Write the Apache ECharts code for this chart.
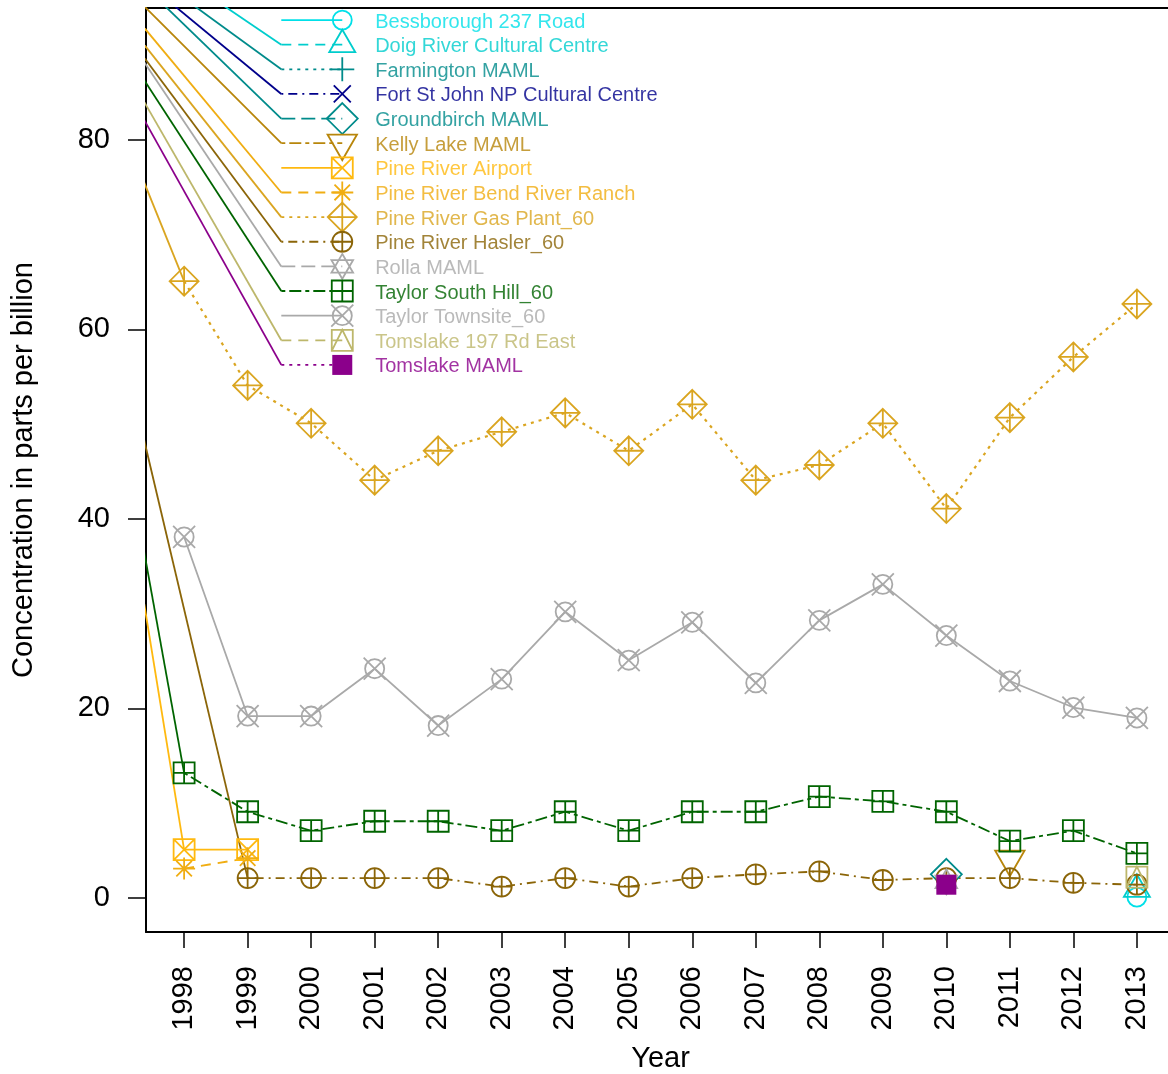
<!DOCTYPE html>
<html>
<head>
<meta charset="utf-8">
<script src="https://cdn.jsdelivr.net/npm/echarts@6/dist/echarts.min.js"></script>
<style>
html,body{margin:0;padding:0;background:#fff;}
#chart{width:1168px;height:1074px;}
</style>
</head>
<body>
<div id="chart"></div>
<script>
// ---------- data ----------
const YEARS = [1998,1999,2000,2001,2002,2003,2004,2005,2006,2007,2008,2009,2010,2011,2012,2013];
const Y_TICKS = [0,20,40,60,80];
const NAMES = ["Bessborough 237 Road","Doig River Cultural Centre","Farmington MAML","Fort St John NP Cultural Centre","Groundbirch MAML","Kelly Lake MAML","Pine River Airport","Pine River Bend River Ranch","Pine River Gas Plant_60","Pine River Hasler_60","Rolla MAML","Taylor South Hill_60","Taylor Townsite_60","Tomslake 197 Rd East","Tomslake MAML"];
const COLORS = ["#00E0E8","#00CDCD","#008B8B","#00008B","#008B8B","#B8860B","#FFB90F","#F0AD12","#DAA520","#8B6508","#A9A9A9","#006400","#A9A9A9","#BDB76B","#8B008B"];
const N = null;
const bessborough  = [N,N,N,N,N,N,N,N,N,N,N,N,N,N,N,0.1];
const doig         = [N,N,N,N,N,N,N,N,N,N,N,N,N,N,N,0.9];
const farmington   = [N,N,N,N,N,N,N,N,N,N,N,N,N,N,N,N];
const fortStJohn   = [N,N,N,N,N,N,N,N,N,N,N,N,N,N,N,N];
const groundbirch  = [N,N,N,N,N,N,N,N,N,N,N,N,2.5,N,N,N];
const kellyLake    = [N,N,N,N,N,N,N,N,N,N,N,N,N,4.1,N,N];
const pineAirport  = [5.1,5.1,N,N,N,N,N,N,N,N,N,N,N,N,N,N];
const pineBend     = [3.1,4.2,N,N,N,N,N,N,N,N,N,N,N,N,N,N];
const pineGasPlant = [65.1,54.1,50.1,44.1,47.2,49.2,51.2,47.2,52.1,44.1,45.7,50.1,41.1,50.7,57.1,62.7];
const pineHasler   = [N,2.1,2.1,2.1,2.1,1.2,2.1,1.2,2.1,2.5,2.8,1.9,2.1,2.1,1.6,1.4];
const rolla        = [N,N,N,N,N,N,N,N,N,N,N,N,1.7,N,N,N];
const taylorSouth  = [13.2,9.1,7.1,8.1,8.1,7.1,9.1,7.1,9.1,9.1,10.7,10.2,9.1,6.0,7.1,4.7];
const taylorTown   = [38.1,19.2,19.2,24.2,18.2,23.1,30.2,25.1,29.1,22.7,29.3,33.1,27.7,22.9,20.1,19.0];
const tomslake197  = [N,N,N,N,N,N,N,N,N,N,N,N,N,N,N,2.2];
const tomslakeMAML = [N,N,N,N,N,N,N,N,N,N,N,N,1.4,N,N,N];
const VALUES = [bessborough,doig,farmington,fortStJohn,groundbirch,kellyLake,pineAirport,pineBend,pineGasPlant,pineHasler,rolla,taylorSouth,taylorTown,tomslake197,tomslakeMAML];

// stray solid segments seen in the picture (data units): edge point -> legend entry
const LEGEND_STRAYS = [N,[1998.677,93.93],[1998.205,93.93],[1997.89,93.93],[1997.73,93.93],[1997.4,93.93],N,[1997.4,91.61],[1997.4,89.82],[1997.4,88.44],[1997.4,87.92],[1997.4,86.02],N,[1997.4,83.69],[1997.4,81.79]];
// stray solid segments: edge point -> first data point
const FIRST_STRAYS = [N,N,N,N,N,N,[1997.4,29.87],N,[1997.4,75.04],[1997.4,47.49],N,[1997.4,35.46],N,N,N];

// ---------- styles ----------
const FONT = "'Liberation Sans', Arial, Helvetica, sans-serif";
const DASHES = ['solid',[10,7],[3,5],[2,5,9,5],[14,6],[4,4,12,4]];
const SYMBOLS = [
  {s:'circle', size:[19,19]},
  {s:'path://M0,-1L0.866,0.5L-0.866,0.5Z', size:[26,22.5], off:[0,-3.75]},
  {s:'path://M0,-1L0,1M-1,0L1,0', size:[24,24]},
  {s:'path://M-1,-1L1,1M-1,1L1,-1', size:[17,17]},
  {s:'path://M0,-1L1,0L0,1L-1,0Z', size:[31,31]},
  {s:'path://M0,1L0.866,-0.5L-0.866,-0.5Z', size:[29.4,25.5], off:[0,4.25]},
  {s:'path://M-1,-1L1,-1L1,1L-1,1ZM-1,-1L1,1M-1,1L1,-1', size:[21,21]},
  {s:'path://M0,-1L0,1M-1,0L1,0M-0.707,-0.707L0.707,0.707M-0.707,0.707L0.707,-0.707', size:[22,22]},
  {s:'path://M0,-1L1,0L0,1L-1,0ZM0,-1L0,1M-1,0L1,0', size:[29,29]},
  {s:'path://M-1,0A1,1,0,1,1,1,0A1,1,0,1,1,-1,0ZM0,-1L0,1M-1,0L1,0', size:[20,20]},
  {s:'path://M0,-1L0.866,0.5L-0.866,0.5ZM0,1L0.866,-0.5L-0.866,-0.5Z', size:[21.6,25]},
  {s:'path://M-1,-1L1,-1L1,1L-1,1ZM0,-1L0,1M-1,0L1,0', size:[21,21]},
  {s:'path://M-1,0A1,1,0,1,1,1,0A1,1,0,1,1,-1,0ZM-1.15,-1.15L1.15,1.15M-1.15,1.15L1.15,-1.15', size:[22,22]},
  {s:'path://M-1,-1L1,-1L1,1L-1,1ZM-1,1L0,-1L1,1', size:[21,21]},
  {s:'rect', size:[20,20], filled:true}
];
const LW = 1.8;
// legend layout (data units)
const LEG_X0 = 1999.53, LEG_X1 = 2000.49, LEG_TX = 2001.0, LEG_Y0 = 92.66, LEG_DY = 2.6;

function symStyle(i){
  const sy = SYMBOLS[i];
  return {
    symbol: sy.s, symbolSize: sy.size, symbolOffset: sy.off || [0,0], symbolKeepAspect:false,
    itemStyle: sy.filled ? {color: COLORS[i], borderWidth:0}
                         : {color:'rgba(0,0,0,0)', borderColor: COLORS[i], borderWidth: LW}
  };
}
function extend(a, b, f){ // extend segment from b through a by factor f
  return [b[0] + (a[0]-b[0])*f, b[1] + (a[1]-b[1])*f];
}

const series = [];
// stray segments
NAMES.forEach((nm,i)=>{
  const legPt = [LEG_X0, LEG_Y0 - i*LEG_DY];
  if (LEGEND_STRAYS[i]) {
    series.push({type:'line', silent:true, symbol:'none', clip:true, z:1,
      data:[extend(LEGEND_STRAYS[i], legPt, 1.3), legPt],
      lineStyle:{color:COLORS[i], width:LW, type:'solid'}});
  }
  if (FIRST_STRAYS[i]) {
    const vals = VALUES[i];
    const k = vals.findIndex(v=>v!==null);
    const fp = [YEARS[k], vals[k]];
    series.push({type:'line', silent:true, symbol:'none', clip:true, z:1,
      data:[extend(FIRST_STRAYS[i], fp, 1.3), fp],
      lineStyle:{color:COLORS[i], width:LW, type:'solid'}});
  }
});
// data series
NAMES.forEach((nm,i)=>{
  const d = [];
  YEARS.forEach((y,k)=>{ if (VALUES[i][k]!==null) d.push([y, VALUES[i][k]]); });
  series.push(Object.assign({type:'line', name:nm, silent:true, clip:true, z:2, data:d,
    showSymbol:true, emphasis:{disabled:true},
    lineStyle:{color:COLORS[i], width:(i%6===2?2.2:LW), type:DASHES[i%6]}}, symStyle(i)));
});
// legend (drawn as series so it shares the plot's scale)
NAMES.forEach((nm,i)=>{
  const ly = LEG_Y0 - i*LEG_DY;
  series.push(Object.assign({type:'line', silent:true, clip:false, z:3, emphasis:{disabled:true},
    data:[{value:[LEG_X0, ly], symbol:'none'}, {value:[LEG_X1, ly]}],
    lineStyle:{color:COLORS[i], width:LW, type:DASHES[i%6]}}, symStyle(i)));
});
series.push({type:'scatter', silent:true, z:3, symbolSize:1, itemStyle:{color:'rgba(0,0,0,0)'},
  data: NAMES.map((nm,i)=>({value:[LEG_TX, LEG_Y0 - i*LEG_DY], label:{color:COLORS[i]}})),
  label:{show:true, position:'right', distance:0, offset:[0,2], fontSize:20, fontFamily:FONT,
    formatter: p => NAMES[p.dataIndex]}});

const chart = echarts.init(document.getElementById('chart'), null, {renderer:'canvas'});
chart.setOption({
  animation:false,
  backgroundColor:'#ffffff',
  grid:{left:146, top:8, right:-7, bottom:142, show:false, containLabel:false, outerBoundsMode:'none'},
  xAxis:[{type:'value', min:1997.4, max:2013.6,
    name:'Year', nameLocation:'middle', nameGap:112,
    nameTextStyle:{fontSize:29, color:'#000', fontFamily:FONT},
    axisLine:{show:true, onZero:false, lineStyle:{color:'#000', width:2}},
    axisTick:{show:true, inside:false, customValues:YEARS, length:16, lineStyle:{color:'#000', width:1.5}},
    axisLabel:{show:true, customValues:YEARS, rotate:90, margin:34, fontSize:29, color:'#000', fontFamily:FONT, formatter:v=>String(v)},
    splitLine:{show:false}},
    {type:'value', position:'top', min:1997.4, max:2013.6,
    axisLine:{show:true, onZero:false, lineStyle:{color:'#000', width:2}},
    axisTick:{show:false}, axisLabel:{show:false}, splitLine:{show:false}}],
  yAxis:{type:'value', min:-3.59, max:93.93,
    name:'Concentration in parts per billion', nameLocation:'middle', nameGap:108,
    nameTextStyle:{fontSize:29, color:'#000', fontFamily:FONT},
    axisLine:{show:true, onZero:false, lineStyle:{color:'#000', width:2}},
    axisTick:{show:true, inside:false, customValues:Y_TICKS, length:18, lineStyle:{color:'#000', width:1.5}},
    axisLabel:{show:true, customValues:Y_TICKS, margin:36, fontSize:29, color:'#000', fontFamily:FONT, formatter:v=>String(v)},
    splitLine:{show:false}},
  series: series
});
</script>
</body>
</html>
